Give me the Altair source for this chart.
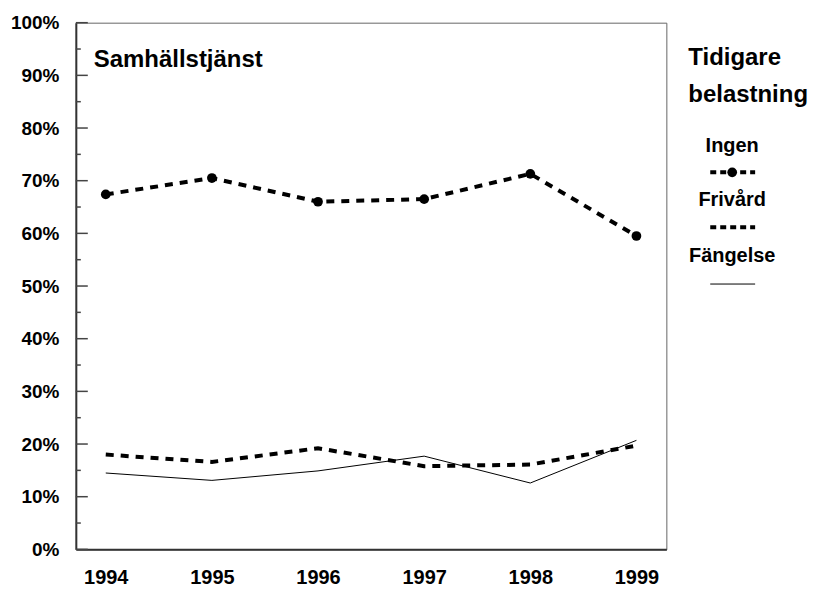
import altair as alt
import pandas as pd

years = ["1994", "1995", "1996", "1997", "1998", "1999"]
ingen = [67.4, 70.5, 66.0, 66.5, 71.3, 59.5]
frivard = [18.0, 16.6, 19.2, 15.8, 16.1, 19.7]
fangelse = [14.5, 13.1, 14.9, 17.7, 12.6, 20.7]
series_names = ["Ingen", "Frivård", "Fängelse"]
legend_title = ["Tidigare", "belastning"]
panel_title = "Samhällstjänst"
major_ticks = list(range(0, 101, 10))
minor_ticks = list(range(5, 100, 10))

FONT = "Liberation Sans"
W, H = 592, 528

df = pd.DataFrame({
    "year": years * 3,
    "value": ingen + frivard + fangelse,
    "series": [series_names[0]] * 6 + [series_names[1]] * 6 + [series_names[2]] * 6,
})

x = alt.X("year:O", scale=alt.Scale(type="point", padding=0.282),
          axis=alt.Axis(title=None, labelAngle=0, ticks=False, tickSize=0,
                        labelPadding=18, labelFontSize=20, labelFontWeight="bold",
                        labelFont=FONT, labelColor="black", domainColor="#333",
                        domainWidth=2, grid=False))
y = alt.Y("value:Q", scale=alt.Scale(domain=[0, 100], nice=False, zero=True),
          axis=alt.Axis(title=None, values=major_ticks, ticks=False, tickSize=0,
                        labelExpr="datum.value + '%'", labelPadding=17,
                        labelFontSize=19, labelFontWeight="bold", labelFont=FONT,
                        labelColor="black", domainColor="#333", domainWidth=2,
                        grid=False))

base = alt.Chart(df)

fang_line = base.transform_filter(alt.datum.series == series_names[2]).mark_line(
    color="black", strokeWidth=1).encode(x=x, y=y)
friv_line = base.transform_filter(alt.datum.series == series_names[1]).mark_line(
    color="black", strokeWidth=4, strokeDash=[8, 7]).encode(x=x, y=y)
ingen_line = base.transform_filter(alt.datum.series == series_names[0]).mark_line(
    color="black", strokeWidth=4, strokeDash=[8, 7]).encode(x=x, y=y)
ingen_pts = base.transform_filter(alt.datum.series == series_names[0]).mark_point(
    filled=True, color="black", size=95, opacity=1).encode(x=x, y=y)

maj = alt.Chart(pd.DataFrame({"t": major_ticks})).mark_rule(
    color="#444", strokeWidth=1.5).encode(
    y=alt.Y("t:Q", scale=alt.Scale(domain=[0, 100], nice=False)),
    x=alt.value(0), x2=alt.value(12))
mnr = alt.Chart(pd.DataFrame({"t": minor_ticks})).mark_rule(
    color="#444", strokeWidth=1.5).encode(
    y=alt.Y("t:Q", scale=alt.Scale(domain=[0, 100], nice=False)),
    x=alt.value(0), x2=alt.value(5))

one = pd.DataFrame({"a": [0]})

title_txt = alt.Chart(one).mark_text(
    text=panel_title, font=FONT, fontSize=24, fontWeight="bold",
    align="left", baseline="middle", color="black").encode(
    x=alt.value(18), y=alt.value(37))

leg_t1 = alt.Chart(one).mark_text(
    text=legend_title[0], font=FONT, fontSize=24, fontWeight="bold",
    align="left", baseline="middle", color="black").encode(
    x=alt.value(614), y=alt.value(35))
leg_t2 = alt.Chart(one).mark_text(
    text=legend_title[1], font=FONT, fontSize=24, fontWeight="bold",
    align="left", baseline="middle", color="black").encode(
    x=alt.value(614), y=alt.value(73))

label_y = [124, 178, 234]
sym_y = [150, 205, 262]
leg_layers = []
for name, ly in zip(series_names, label_y):
    leg_layers.append(alt.Chart(one).mark_text(
        text=name, font=FONT, fontSize=20, fontWeight="bold",
        align="center", baseline="middle", color="black").encode(
        x=alt.value(658), y=alt.value(ly)))

leg_layers.append(alt.Chart(one).mark_rule(
    color="black", strokeWidth=4, strokeDash=[6, 4]).encode(
    x=alt.value(636), x2=alt.value(681), y=alt.value(sym_y[0])))
leg_layers.append(alt.Chart(one).mark_point(
    filled=True, color="black", size=95, opacity=1).encode(
    x=alt.value(658), y=alt.value(sym_y[0])))
leg_layers.append(alt.Chart(one).mark_rule(
    color="black", strokeWidth=4, strokeDash=[6, 4]).encode(
    x=alt.value(636), x2=alt.value(681), y=alt.value(sym_y[1])))
leg_layers.append(alt.Chart(one).mark_rule(
    color="black", strokeWidth=1).encode(
    x=alt.value(636), x2=alt.value(681), y=alt.value(sym_y[2])))

chart = alt.layer(
    fang_line, friv_line, ingen_line, ingen_pts, maj, mnr,
    title_txt, leg_t1, leg_t2, *leg_layers
).properties(
    width=W, height=H,
    padding={"left": 2, "top": 5, "right": 0, "bottom": 0},
    background="white",
).configure_view(stroke="#666", strokeWidth=1)

chart.save("out.html", embed_options={"renderer": "svg", "actions": False})
